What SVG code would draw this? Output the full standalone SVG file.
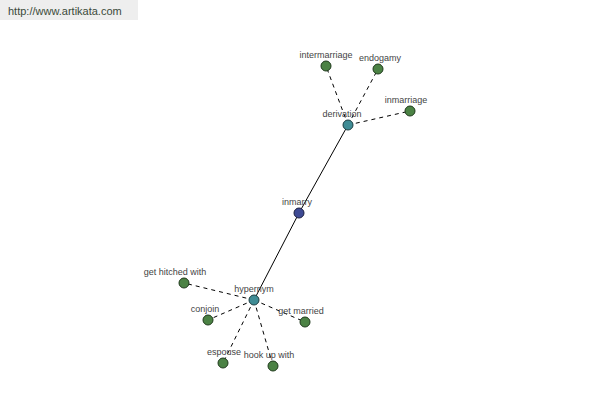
<svg xmlns="http://www.w3.org/2000/svg" width="600" height="400" viewBox="0 0 600 400">
<style>
.lbl{font-family:"Liberation Sans",Arial,sans-serif;font-size:9px;fill:#444;text-anchor:middle}
.leaf{fill:#4b8244;stroke:#1f3a1c;stroke-width:1}
.hub{fill:#3f8c95;stroke:#1c3c40;stroke-width:1}
.root{fill:#3e4a94;stroke:#1c2040;stroke-width:1}
.d{stroke:#000;stroke-width:1;stroke-dasharray:4,4;fill:none}
.s{stroke:#000;stroke-width:1;fill:none}
</style>
<rect width="600" height="400" fill="#fff"/>
<rect x="0" y="0" width="138" height="20" fill="#eeeeee"/>
<text x="8" y="15" style="font-family:'Liberation Sans',Arial,sans-serif;font-size:11px;fill:#3a4a3a">http://www.artikata.com</text>
<g id="connectors">
<line class="s" x1="348" y1="125" x2="299" y2="213"/>
<line class="s" x1="299" y1="213" x2="254" y2="300"/>
<line class="d" x1="348" y1="125" x2="326" y2="66"/>
<line class="d" x1="348" y1="125" x2="378" y2="69"/>
<line class="d" x1="348" y1="125" x2="410" y2="111"/>
<line class="d" x1="254" y1="300" x2="184" y2="283"/>
<line class="d" x1="254" y1="300" x2="208" y2="320"/>
<line class="d" x1="254" y1="300" x2="305" y2="322"/>
<line class="d" x1="254" y1="300" x2="223" y2="363"/>
<line class="d" x1="254" y1="300" x2="273" y2="366"/>
</g>
<g id="intermarriage"><circle class="leaf" cx="326" cy="66" r="5"/><text class="lbl" x="326" y="58">intermarriage</text></g>
<g id="endogamy"><circle class="leaf" cx="378" cy="69" r="5"/><text class="lbl" x="380" y="61">endogamy</text></g>
<g id="inmarriage"><circle class="leaf" cx="410" cy="111" r="5"/><text class="lbl" x="406" y="103">inmarriage</text></g>
<g id="derivation"><circle class="hub" cx="348" cy="125" r="5"/><text class="lbl" x="342" y="117">derivation</text></g>
<g id="inmarry"><circle class="root" cx="299" cy="213" r="5"/><text class="lbl" x="297" y="205">inmarry</text></g>
<g id="hypernym"><circle class="hub" cx="254" cy="300" r="5"/><text class="lbl" x="254" y="292">hypernym</text></g>
<g id="get-hitched-with"><circle class="leaf" cx="184" cy="283" r="5"/><text class="lbl" x="175" y="275">get hitched with</text></g>
<g id="conjoin"><circle class="leaf" cx="208" cy="320" r="5"/><text class="lbl" x="205" y="312">conjoin</text></g>
<g id="get-married"><circle class="leaf" cx="305" cy="322" r="5"/><text class="lbl" x="301" y="314">get married</text></g>
<g id="espouse"><circle class="leaf" cx="223" cy="363" r="5"/><text class="lbl" x="224" y="355">espouse</text></g>
<g id="hook-up-with"><circle class="leaf" cx="273" cy="366" r="5"/><text class="lbl" x="269" y="358">hook up with</text></g>
</svg>
